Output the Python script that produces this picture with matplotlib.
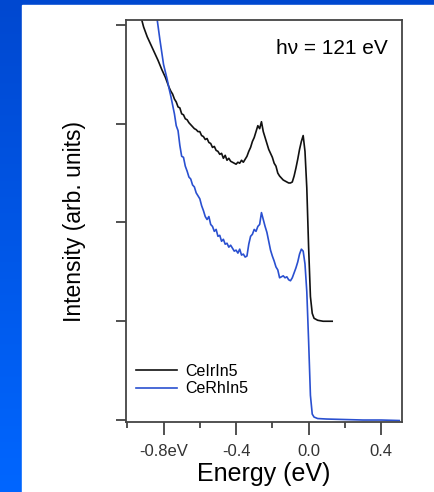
import matplotlib
matplotlib.use("Agg")
import matplotlib.pyplot as plt
import numpy as np

plt.rcParams['font.family'] = ['Liberation Sans', 'DejaVu Sans']

# CeIrIn5 (black)
energy_ir = [-0.93, -0.91, -0.89, -0.87, -0.85, -0.83, -0.81, -0.79, -0.77, -0.76,
             -0.75, -0.74, -0.73, -0.72, -0.71, -0.70, -0.69, -0.68, -0.67, -0.66,
             -0.65, -0.64, -0.63, -0.62, -0.61, -0.60, -0.59, -0.58, -0.57, -0.56,
             -0.55, -0.54, -0.53, -0.52, -0.51, -0.50, -0.49, -0.48, -0.47, -0.46,
             -0.45, -0.44, -0.43, -0.42, -0.41, -0.40, -0.39, -0.38, -0.37, -0.36,
             -0.35, -0.34, -0.33, -0.32, -0.31, -0.30, -0.29, -0.28, -0.27, -0.26,
             -0.25, -0.24, -0.23, -0.22, -0.21, -0.20, -0.19, -0.18, -0.17, -0.16,
             -0.15, -0.14, -0.13, -0.12, -0.11, -0.10, -0.09, -0.08, -0.07, -0.06,
             -0.05, -0.04, -0.03, -0.02, -0.01, 0.00, 0.01, 0.02, 0.03, 0.05,
             0.08, 0.13]
intens_ir = [4.12, 3.98, 3.88, 3.80, 3.72, 3.64, 3.55, 3.47, 3.37, 3.33,
             3.30, 3.25, 3.22, 3.17, 3.16, 3.10, 3.09, 3.05, 3.04, 3.01,
             2.99, 2.97, 2.95, 2.94, 2.92, 2.92, 2.88, 2.87, 2.84, 2.85,
             2.81, 2.80, 2.76, 2.77, 2.73, 2.72, 2.69, 2.70, 2.65, 2.68,
             2.63, 2.65, 2.62, 2.61, 2.60, 2.59, 2.61, 2.60, 2.63, 2.61,
             2.64, 2.67, 2.72, 2.76, 2.82, 2.86, 2.92, 2.98, 2.95, 3.02,
             2.92, 2.86, 2.80, 2.74, 2.70, 2.66, 2.60, 2.57, 2.50, 2.47,
             2.45, 2.43, 2.42, 2.41, 2.40, 2.40, 2.41, 2.47, 2.55, 2.64,
             2.74, 2.82, 2.88, 2.72, 2.35, 1.75, 1.25, 1.08, 1.03, 1.01,
             1.00, 1.00]

# CeRhIn5 (blue)
energy_rh = [-0.84, -0.82, -0.80, -0.78, -0.77, -0.76, -0.75, -0.74, -0.73, -0.72,
             -0.71, -0.70, -0.69, -0.68, -0.67, -0.66, -0.65, -0.64, -0.63, -0.62,
             -0.61, -0.60, -0.59, -0.58, -0.57, -0.56, -0.55, -0.54, -0.53, -0.52,
             -0.51, -0.50, -0.49, -0.48, -0.47, -0.46, -0.45, -0.44, -0.43, -0.42,
             -0.41, -0.40, -0.39, -0.38, -0.37, -0.36, -0.35, -0.34, -0.33, -0.32,
             -0.31, -0.30, -0.29, -0.28, -0.27, -0.26, -0.25, -0.24, -0.23, -0.22,
             -0.21, -0.20, -0.19, -0.18, -0.17, -0.16, -0.15, -0.14, -0.13, -0.12,
             -0.11, -0.10, -0.09, -0.08, -0.07, -0.06, -0.05, -0.04, -0.03, -0.02,
             -0.01, 0.00, 0.01, 0.02, 0.03, 0.05, 0.10, 0.20, 0.30, 0.40, 0.50]
intens_rh = [4.12, 3.85, 3.60, 3.45, 3.36, 3.28, 3.19, 3.10, 2.98, 2.93,
             2.78, 2.67, 2.66, 2.57, 2.52, 2.46, 2.44, 2.38, 2.36, 2.30,
             2.27, 2.24, 2.17, 2.12, 2.06, 2.03, 2.06, 1.98, 1.96, 1.91,
             1.93, 1.86, 1.87, 1.81, 1.83, 1.78, 1.79, 1.75, 1.77, 1.74,
             1.71, 1.72, 1.69, 1.73, 1.67, 1.68, 1.65, 1.66, 1.78, 1.86,
             1.88, 1.93, 1.91, 1.96, 1.98, 2.10, 2.03, 1.96, 1.90, 1.81,
             1.72, 1.66, 1.61, 1.55, 1.52, 1.44, 1.45, 1.46, 1.44, 1.45,
             1.42, 1.41, 1.44, 1.49, 1.54, 1.60, 1.68, 1.73, 1.71, 1.58,
             1.30, 0.80, 0.25, 0.06, 0.03, 0.015, 0.01, 0.005, 0.0, 0.0, -0.005]

major_x = [-0.8, -0.4, 0.0, 0.4]
major_labels = ['-0.8eV', '-0.4', '0.0', '0.4']
minor_x = [-1.0, -0.6, -0.2, 0.2]
y_ticks = [0, 1, 2, 3, 4]

fig = plt.figure(figsize=(4.34, 4.92), dpi=100)

# slide background: blue gradient (darker at top) with white panel
bg = fig.add_axes([0, 0, 1, 1], zorder=-10)
grad = np.linspace(0, 1, 256).reshape(-1, 1)
cmap = matplotlib.colors.LinearSegmentedColormap.from_list('bg', ['#0048d0', '#0066ff'])
bg.imshow(grad, aspect='auto', cmap=cmap, extent=[0, 1, 1, 0])
bg.add_patch(plt.Rectangle((22 / 434, 0), 1, 1 - 5 / 492, color='white', transform=fig.transFigure))
bg.set_xlim(0, 1)
bg.set_ylim(1, 0)
bg.axis('off')

ax = fig.add_axes([126 / 434, 1 - 422 / 492, 276 / 434, 402 / 492])
ax.plot(energy_ir, intens_ir, color='#111111', lw=1.2, label='CeIrIn5')
ax.plot(energy_rh, intens_rh, color='#2a50d0', lw=1.2, label='CeRhIn5')

ax.set_xlim(-1.007, 0.515)
ax.set_ylim(-0.02, 4.05)

ax.set_xticks(major_x)
ax.set_xticklabels(major_labels, fontsize=12)
ax.set_xticks(minor_x, minor=True)
ax.set_yticks(y_ticks)
ax.set_yticklabels([])
ax.tick_params(axis='x', which='major', length=9, width=1.2, direction='out', pad=7, colors='#333333')
ax.tick_params(axis='x', which='minor', length=4, width=1.2, direction='out', colors='#333333')
ax.tick_params(axis='y', length=7, width=1.2, direction='out', colors='#333333')
for s in ax.spines.values():
    s.set_color('#444444')
    s.set_linewidth(1.3)

ax.set_xlabel('Energy (eV)', fontsize=18, labelpad=2)
ax.set_ylabel('Intensity (arb. units)', fontsize=16.5, labelpad=18)

ax.text(0.95, 0.93, 'h\u03bd = 121 eV', transform=ax.transAxes, ha='right', va='center', fontsize=15)

ax.legend(loc='lower left', bbox_to_anchor=(0.0, 0.04), frameon=False, fontsize=11.5,
          handlelength=2.6, handletextpad=0.5, labelspacing=0.15, borderaxespad=0.2)

fig.savefig('out.png', dpi=100)
